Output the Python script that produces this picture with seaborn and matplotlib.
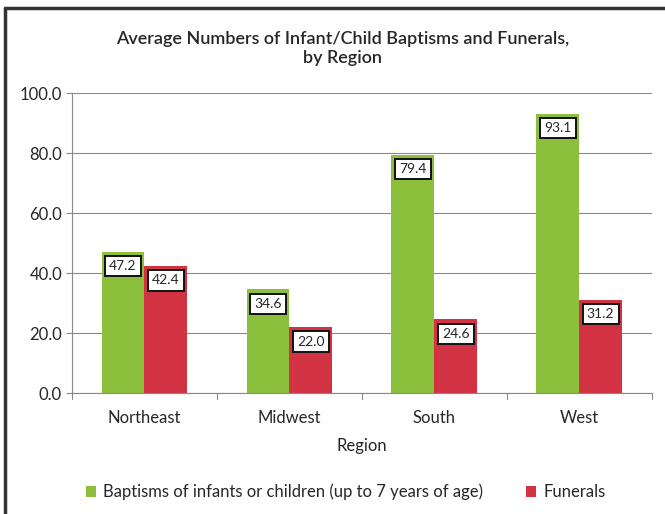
import numpy as np
import pandas as pd
import seaborn as sns
import matplotlib.pyplot as plt
from matplotlib.lines import Line2D

# chart values
regions = ["Northeast", "Midwest", "South", "West"]
baptisms = [47.2, 34.6, 79.4, 93.1]
funerals = [42.4, 22.0, 24.6, 31.2]
series = ["Baptisms of infants or children (up to 7 years of age)", "Funerals"]
colors = ["#8cc03c", "#d23343"]

df = pd.DataFrame({
    "Region": regions * 2,
    "Value": baptisms + funerals,
    "Series": [series[0]] * len(regions) + [series[1]] * len(regions),
})

sns.set_style("white")
plt.rcParams['font.family'] = ['Lato', 'DejaVu Sans']

fig = plt.figure(figsize=(6.65, 5.14), dpi=100)
ax = fig.add_axes([0.108, 0.235, 0.872, 0.584])

sns.barplot(data=df, x="Region", y="Value", hue="Series", palette=colors,
            width=0.59, saturation=1, linewidth=0, ax=ax, legend=True)

ax.set_ylim(0, 100)
ax.set_yticks(np.arange(0, 101, 20))
ax.set_yticklabels([f"{v:.1f}" for v in np.arange(0, 101, 20)], fontsize=12)
ax.yaxis.grid(True, color="#8a8a8a", linewidth=0.8)
ax.set_axisbelow(True)
ax.set_xlim(-0.5, len(regions) - 0.5)
ax.set_xlabel("Region", fontsize=12, labelpad=9)
ax.set_ylabel("")
ax.tick_params(axis="x", labelsize=12, length=0, pad=12)
ax.tick_params(axis="y", left=True, length=4, color="#888888", pad=3)

# tick marks between categories on the x axis
for xb in np.arange(-0.5, len(regions), 1.0):
    ax.plot([xb, xb], [0, -1.8], color="#888888", linewidth=0.8, clip_on=False)

for side in ["top", "right"]:
    ax.spines[side].set_visible(False)
ax.spines["left"].set_color("#888888")
ax.spines["bottom"].set_color("#888888")

# value boxes near the top of each bar
for container in ax.containers:
    for bar in container:
        h = bar.get_height()
        ax.text(bar.get_x() + bar.get_width() / 2, h - 2.8, f"{h:.1f}",
                ha="center", va="top", fontsize=10,
                bbox=dict(boxstyle="square,pad=0.3", fc="white", ec="#111111", lw=1.4))

fig.suptitle("Average Numbers of Infant/Child Baptisms and Funerals,\nby Region",
             x=0.515, y=0.94, fontsize=13, fontweight="semibold", linespacing=1.25)

handles, labels = ax.get_legend_handles_labels()
ax.legend_.remove()
fig.legend(handles, labels, loc="center", bbox_to_anchor=(0.52, 0.043), ncol=2,
           frameon=False, fontsize=12, handlelength=0.6, handleheight=0.6,
           handletextpad=0.4, columnspacing=2.6)

# dark frame of the printed figure box
fig.add_artist(Line2D([0.008, 0.008], [0, 0.985], color="#333333", lw=2.5))
fig.add_artist(Line2D([0.008, 1.0], [0.985, 0.985], color="#333333", lw=2.5))

fig.savefig("out.png", dpi=100)
